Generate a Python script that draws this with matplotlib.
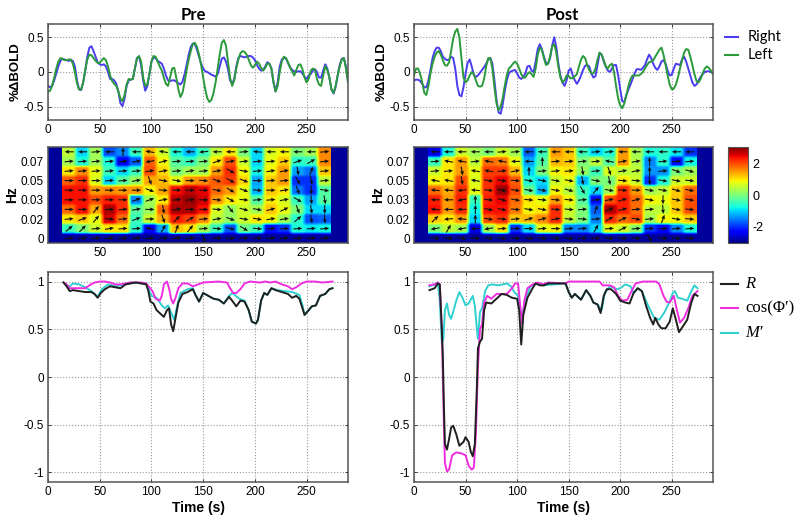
# -*- coding: utf-8 -*-
import numpy as np
import matplotlib
matplotlib.use('Agg')
import matplotlib.pyplot as plt
from matplotlib.lines import Line2D

W, H = 800, 521

# top row, %BOLD, read every 2 s
top_t = list(range(0, 291, 2))
pre_right = [-.2,-.22,-.2,-.12,-.02,.08,.16,.19,.18,.17,
             .16,.17,.16,.08,-.12,-.25,-.26,-.15,.02,.22,
             .35,.37,.3,.22,.14,.11,.1,.11,.08,0,
             -.1,-.1,-.12,-.17,-.28,-.45,-.49,-.38,-.2,-.12,
             -.11,-.1,.05,.2,.22,.1,-.12,-.27,-.2,-.03,
             .15,.21,.2,.16,.14,.12,.05,-.05,-.12,-.13,
             -.12,-.12,-.14,-.16,-.18,-.14,-.03,.1,.25,.36,
             .41,.4,.32,.22,.12,.05,.01,0,-.02,-.04,
             -.05,-.07,-.03,.08,.19,.21,.15,.04,-.12,-.17,
             -.1,.08,.2,.23,.22,.21,.22,.23,.23,.21,
             .17,.1,.05,.02,.03,.08,.14,.12,.05,-.15,
             -.28,-.15,.08,.18,.2,.2,.13,.07,.03,.01,
             0,.01,.01,-.02,-.07,-.1,-.05,-.03,.02,.04,
             0,-.08,-.08,.02,.11,.05,-.08,-.25,-.31,-.22,
             -.05,.1,.19,.2,.08,-.12]
pre_left = [-.28,-.27,-.2,-.08,.05,.15,.2,.19,.17,.17,
            .18,.18,.12,0,-.16,-.25,-.25,-.15,.03,.18,
            .25,.24,.2,.16,.13,.13,.17,.2,.17,.08,
            -.05,-.13,-.17,-.2,-.28,-.38,-.42,-.33,-.18,-.1,
            -.11,-.1,.05,.2,.23,.15,-.08,-.2,-.18,-.03,
            .15,.23,.22,.15,.08,.02,-.08,-.17,-.2,-.08,
            .05,.06,-.08,-.25,-.36,-.3,-.15,.03,.18,.3,
            .4,.42,.36,.25,.1,-.08,-.25,-.38,-.43,-.4,
            -.3,-.15,.05,.25,.42,.46,.38,.15,-.08,-.2,
            -.12,.05,.18,.27,.3,.29,.25,.18,.1,.06,
            .1,.15,.12,.06,.02,.06,.12,.12,.05,-.15,
            -.28,-.2,0,.15,.22,.2,.14,.06,.01,-.05,
            .03,.1,.11,.04,-.08,-.15,-.1,.02,.05,.03,
            -.1,-.18,-.2,-.05,.08,.03,-.08,-.25,-.3,-.2,
            -.05,.08,.18,.2,.05,-.15]
post_right = [-.12,-.11,-.11,-.13,-.17,-.22,-.22,-.12,.03,.2,
              .3,.35,.35,.3,.22,.19,.17,.18,.22,.2,
              .05,-.2,-.33,-.35,-.22,-.02,.13,.18,.08,-.04,
              -.07,-.05,-.01,.03,.07,.12,.18,.2,.12,-.12,
              -.4,-.58,-.6,-.47,-.28,-.12,-.02,.01,.02,.03,
              -.02,-.08,-.1,-.07,-.02,.08,.09,.02,0,.15,
              .33,.4,.33,.22,.13,.12,.2,.38,.5,.36,
              .12,-.05,-.15,-.2,-.12,.02,.05,-.05,-.12,-.17,
              -.12,-.05,.03,.09,.1,.08,-.02,-.08,-.06,.1,
              .27,.25,.15,.08,.02,0,.05,.1,.1,-.05,
              -.25,-.42,-.43,-.33,-.25,-.18,-.1,-.02,.04,.04,
              .03,.06,.1,.18,.25,.2,.12,.06,.03,.08,
              .15,.17,.12,.02,-.05,-.04,.05,.12,.11,.1,
              .18,.22,.15,.05,-.05,-.15,-.2,-.18,-.12,-.07,
              -.03,0,.01,.01,0,-.02]
post_left = [-.05,.05,.05,-.03,-.15,-.3,-.33,-.2,-.02,.12,
             .22,.28,.3,.25,.17,.1,.09,.14,.3,.48,
             .58,.62,.5,.2,-.08,-.15,-.12,-.05,0,-.03,
             -.12,-.2,-.21,-.2,-.1,.08,.2,.2,.05,-.22,
             -.45,-.55,-.5,-.38,-.2,-.05,.05,.08,.12,.15,
             .12,.05,-.03,-.08,-.08,-.03,0,-.03,-.07,.05,
             .25,.35,.32,.2,.1,.12,.22,.37,.4,.28,
             .08,-.08,-.15,-.12,-.05,-.06,-.09,-.09,-.06,-.03,
             .08,.18,.23,.2,.1,.03,-.02,-.02,.05,.18,
             .28,.25,.17,.08,.05,.1,.12,0,-.2,-.38,
             -.48,-.52,-.45,-.33,-.2,-.1,-.05,-.05,-.05,-.05,
             -.03,0,.05,.1,.14,.15,.17,.22,.27,.32,
             .35,.25,.1,-.05,-.18,-.25,-.24,-.18,-.08,.05,
             .17,.28,.33,.32,.22,.1,-.03,-.13,-.15,-.1,
             -.02,.05,.08,.06,.02,-.03]

# bottom row
pre_r_t = [15,18,21,24,30,36,42,45,48,51,55,60,65,70,75,80,85,90,95,97,99,102,105,109,112,115,117,119,121,123,126,130,135,140,143,146,150,155,160,165,170,175,178,182,186,190,194,197,201,203,206,209,212,216,220,226,232,236,240,243,246,248,252,255,259,263,268,272,275]
pre_r = [.99,.95,.9,.91,.9,.89,.89,.87,.83,.88,.92,.95,.94,.93,.97,.98,.99,.98,.97,.9,.79,.77,.7,.66,.63,.7,.72,.55,.48,.6,.78,.87,.89,.92,.85,.79,.88,.85,.82,.81,.77,.84,.8,.74,.8,.79,.7,.58,.56,.6,.8,.88,.86,.93,.91,.89,.87,.83,.85,.82,.72,.65,.7,.74,.75,.85,.87,.92,.93]
pre_cos_t = [15,18,21,26,32,36,40,45,50,55,60,65,70,75,80,90,95,98,101,104,108,110,112,115,117,119,121,123,126,130,135,140,145,150,165,173,176,179,182,186,190,195,205,210,215,220,226,232,236,240,245,250,258,265,275]
pre_cos = [.99,.97,.93,.93,.93,.93,.96,.99,1,1,.99,.97,.97,.98,.99,.99,.98,.94,.9,.82,.8,.85,.97,1,.93,.82,.77,.82,.93,.98,.98,.95,.97,.99,1,.99,.93,.88,.88,.92,.98,1,.99,1,.99,1,.97,.95,.92,.94,.98,1,1,.99,1]
pre_m_t = [15,18,21,24,30,36,42,45,48,52,58,65,70,80,95,98,100,105,110,113,116,120,122,125,128,135,140,143,146,150,155,160,165,170,175,178,185,190,194,197,201,203,206,209,212,216,222,236,243,246,248,252,255,259,263,268,272,275]
pre_m = [.99,.96,.95,.98,.97,.94,.9,.87,.84,.92,.97,.95,.96,.99,.98,.9,.85,.83,.75,.72,.75,.65,.6,.75,.88,.92,.93,.85,.79,.88,.85,.82,.81,.77,.85,.88,.82,.8,.7,.58,.56,.6,.8,.88,.86,.93,.91,.89,.86,.75,.65,.7,.74,.75,.85,.87,.92,.93]
post_r_t = [15,20,23,25,27,28,29,30,32,34,36,38,41,44,48,50,53,55,57,59,61,62,64,66,68,70,75,80,85,90,95,100,102,104,106,110,115,118,122,126,130,140,147,150,153,156,160,162,167,171,174,178,181,184,187,191,196,200,205,209,213,217,221,225,229,232,234,237,240,244,248,251,254,257,262,265,269,272,275]
post_r = [.91,.93,.98,.97,.5,.2,-.3,-.7,-.76,-.65,-.53,-.51,-.6,-.72,-.68,-.63,-.68,-.78,-.83,-.7,-.1,.3,.37,.4,.7,.78,.77,.82,.87,.86,.83,.82,.7,.34,.65,.83,.93,.98,.96,.96,.98,.98,.98,.89,.83,.87,.83,.81,.91,.85,.78,.76,.67,.85,.92,.92,.87,.8,.78,.77,.88,.93,.9,.75,.62,.55,.62,.55,.51,.51,.58,.72,.6,.47,.55,.6,.78,.87,.85]
post_cos_t = [15,20,23,25,27,28,29,30,32,34,37,41,46,50,53,56,58,60,62,64,66,68,71,75,80,85,90,95,98,101,103,105,107,110,115,120,125,130,147,150,165,180,183,190,194,198,202,207,210,215,222,235,238,242,245,248,252,255,258,262,266,270,275]
post_cos = [.96,.97,.99,.97,.5,0,-.5,-.9,-.99,-.97,-.82,-.79,-.8,-.82,-.93,-.97,-.95,-.6,.1,.5,.55,.78,.85,.82,.87,.87,.87,.93,.98,.98,.75,.55,.8,.93,.97,.99,.97,.99,.98,1,1,1,.96,.96,.94,.85,.8,.81,.88,.98,1,1,.97,.85,.79,.78,.85,.7,.57,.62,.72,.85,.9]
post_m_t = [15,20,23,25,27,28.5,30,32,34,36,39,41,44,47,50,53,57,59,61,62,64,66,69,72,76,82,90,94,98,101,103,105,108,113,118,125,147,150,153,156,160,162,167,171,174,178,182,185,190,197,200,205,210,213,217,221,227,233,238,243,248,251,253,256,260,265,269,272,275]
post_m = [.95,.97,.99,.8,.35,.4,.7,.77,.65,.61,.72,.8,.89,.83,.75,.77,.85,.75,.5,.4,.68,.72,.9,.96,.97,.96,.98,.95,.88,.85,.7,.65,.82,.95,.98,.96,.98,.89,.83,.87,.83,.81,.91,.85,.78,.76,.7,.88,.95,.92,.93,.97,.95,.88,.93,.9,.75,.62,.6,.68,.79,.88,.9,.83,.82,.8,.9,.96,.93]

# spectrogram, rows listed top to bottom, 20 coloured columns
pre_cells = [
    [.5,-1,.3,-1.8,-1.5,-.5,1.3,.6,-.7,-1.2,-.5,.5,1,0,-1,.7,.9,0,.3,1.6],
    [.3,-.7,.3,-.7,-2.3,-1.7,1.9,.9,-.3,-.5,0,1,2,.6,-1,.8,1.2,-.6,-.5,1.6],
    [1,1.6,.8,-.5,-1,-.5,2,1.1,0,.3,.3,1.5,2.2,.9,-.8,.9,1.5,-1.3,-1.6,1.2],
    [1.9,2.2,.7,-1,-.3,.2,1.4,1.3,.8,1.5,1.6,1.9,2.1,1.1,-1.3,1.2,1.5,-2,-2,.5],
    [2.4,2.4,1.5,1.6,1.5,1.5,.9,1.4,2.4,2.7,2.5,1.8,1.5,.8,-1.2,1.2,1,-1.6,-2,-.3],
    [2.4,2.4,2,2.3,2.2,-1.5,.3,1,2.7,2.9,2.6,1.5,1,.8,-.3,1,.7,-.5,-1.3,-.3],
    [1.8,2.4,1.4,2.8,2.2,-.3,.2,1.8,2.8,2.8,2.4,.7,.2,.6,.3,1.2,.8,0,-1,-1],
    [1,1.2,.8,2.6,1.8,-.5,.6,1.4,2.3,2.1,1.6,.5,.2,.6,1,.9,.3,-.6,-1.8,-1.7],
    [-.5,0,.6,1,1,-.6,-2.3,-1.3,1.2,1,.3,-.5,-1.8,-.1,-.5,-2.2,-2,-.7,-.9,-.8],
    [-2.9]*20,
]
post_cells = [
    [-2.5,-.7,.6,.3,0,.6,.3,-1.7,-.5,1.5,1.2,-.5,-1,-.7,1.5,.3,-.7,-.6,-.9,-2],
    [-.5,1,1.5,.5,1.8,1.7,.8,-1.3,-.3,1.3,1.2,0,.5,-.3,1.5,.4,-1.5,-.6,-2.2,-.8],
    [.6,1,1.5,.8,2.1,2.1,1.3,-1,0,.9,1,.2,-.5,.7,.5,.5,-1.4,-1.4,0,.3],
    [.9,1,2,.7,2.2,2.5,1.9,-.7,-1,.6,.8,-1.2,0,0,1,.6,-2,-.7,.6,.6],
    [1.8,1.4,2.2,.8,2.2,2.9,2,-.2,-1.2,.9,.5,-.5,-1,.3,2.2,1.5,.3,.5,1.2,1.8],
    [2.3,1.5,2.3,-.5,2.3,2.5,1.8,1,.8,1.5,.9,-.3,-2.2,2,2.3,1.8,.9,.8,1.2,2],
    [2.4,1.5,2.2,-.8,2.4,2.4,1.7,.9,1,2.2,.6,0,-1.7,2.8,2.3,1.8,.5,.5,1.2,2],
    [1.2,1,1.5,-1,2,2.2,1.2,1.3,1.6,2.2,.5,0,-1.5,2.2,1.8,2,.3,.9,.9,1.2],
    [0,.5,.3,-2.5,.3,1,-2,-1,.8,.9,-1.5,-1.5,-1,.8,.6,.1,-2,-2.3,-1.5,-.7],
    [-2.9]*20,
]
# arrow directions in degrees
pre_angles = [
    [180,180,5,180,90,180,170,170,180,180,185,180,180,5,175,180,180,180,180,5],
    [5,5,5,5,10,10,190,15,5,5,5,20,10,5,5,5,10,20,30,5],
    [5,5,5,5,5,5,10,10,5,10,5,10,-30,-10,5,10,10,-80,70,5],
    [0,0,0,5,5,10,-70,-10,-10,0,-5,-20,-30,-20,0,5,5,-60,-80,5],
    [0,0,0,0,0,0,-20,-5,0,0,0,-10,-30,-20,-5,0,10,-70,-90,-10],
    [0,0,0,0,0,20,20,10,5,5,0,-5,-30,-5,5,5,10,-30,-85,-80],
    [0,0,50,0,5,10,0,-80,10,0,0,-5,-50,-15,-10,15,25,-70,-80,-90],
    [5,20,50,-5,5,20,0,-70,45,30,5,10,-20,-10,-10,10,10,40,-80,-85],
    [40,45,5,10,5,5,170,60,70,50,5,-5,-15,-30,-5,5,5,5,5,5],
    [5,10,5,5,5,10,5,5,10,5,-70,5,5,5,5,5,5,5,5,5],
]
post_angles = [
    [180,180,180,180,180,5,5,180,180,180,180,180,5,5,180,180,180,180,180,180],
    [5,170,170,5,170,170,180,180,90,5,5,5,5,170,10,10,90,5,5,5],
    [5,5,-80,170,170,5,10,90,5,5,5,-80,5,-70,10,10,90,5,-20,-15],
    [170,170,-80,170,-10,-10,-5,-10,-10,-10,-10,-80,-10,-80,-5,-5,-85,-10,-10,-5],
    [175,175,185,175,-5,-10,-10,-10,-10,-10,-15,-60,50,-10,-5,0,-10,-10,-15,-10],
    [180,180,190,90,-5,-15,-10,-5,-5,-5,-5,5,5,10,15,15,-10,-90,-10,-10],
    [175,180,180,90,-10,-10,-5,-10,-10,-5,-5,5,70,20,15,5,5,-85,-10,-5],
    [45,185,175,90,-10,-5,5,15,15,10,-5,-5,5,30,25,-10,5,70,-10,-5],
    [190,60,190,185,190,5,5,0,5,0,5,5,60,5,25,5,5,5,5,5],
    [-5,-5,-5,-5,-5,-5,-5,-5,-5,-5,-5,5,5,-5,-5,-5,-60,-5,-5,-5],
]
cell_edges = [14 + 13 * i for i in range(21)]
hz_labels = ['0', '0.02', '0.03', '0.05', '0.07']

plt.rcParams['font.family'] = ['Liberation Sans', 'DejaVu Sans']
EDGE = '#555555'
GRID = '#999999'
BLUE, GREEN = '#4a3df0', '#2a9a3a'
BLACK, MAGENTA, CYAN = '#202020', '#f02ee0', '#30d0d0'
VMIN, VMAX = -3.05, 3.05

fig = plt.figure(figsize=(8, 5.21), dpi=100)


def px_axes(x0, y0, x1, y1):
    return fig.add_axes([x0 / W, 1 - y1 / H, (x1 - x0) / W, (y1 - y0) / H])


def dress(ax, yticks, ylabels):
    ax.set_xlim(0, 290)
    ax.set_xticks([0, 50, 100, 150, 200, 250])
    ax.set_yticks(yticks)
    ax.set_yticklabels(ylabels)
    ax.tick_params(direction='in', length=2.5, width=0.7, color='#333333',
                   labelsize=8.5, pad=3, top=True, right=True)
    for s in ax.spines.values():
        s.set_color(EDGE)
        s.set_linewidth(1.1)


def heat(ax, cells, angles):
    # blocks on a blue ground; repeating keeps them blocky, bilinear softens only the seams
    ax.set_facecolor(plt.get_cmap('jet')((-2.9 - VMIN) / (VMAX - VMIN)))
    blocks = np.repeat(np.repeat(np.array(cells), 3, axis=0), 3, axis=1)
    img = ax.imshow(blocks, cmap='jet', vmin=VMIN, vmax=VMAX, aspect='auto',
                    interpolation='bilinear',
                    extent=[cell_edges[0], cell_edges[-1], 0, 10], origin='upper')
    ang = np.radians(np.array(angles)[::-1])
    xc = (np.array(cell_edges[:-1]) + np.array(cell_edges[1:])) / 2
    yc = np.arange(10) + 0.5
    xx, yy = np.meshgrid(xc, yc)
    ax.quiver(xx, yy, np.cos(ang), np.sin(ang), pivot='mid', angles='uv',
              units='inches', scale_units='inches', scale=11, width=0.011,
              headwidth=3.6, headlength=4, headaxislength=3.6, color='#111111')
    ax.set_ylim(0, 10)
    dress(ax, [0.5, 2.5, 4.5, 6.5, 8.5], hz_labels)
    ax.set_xticks([50, 100, 150, 200, 250])
    ax.tick_params(length=0)
    ax.set_ylabel('Hz', fontweight='bold', fontsize=10, labelpad=1)
    return img


cols = [(48, 348), (414, 713)]
top_rows = [(pre_right, pre_left), (post_right, post_left)]
low_rows = [
    (pre_m_t, pre_m, pre_cos_t, pre_cos, pre_r_t, pre_r),
    (post_m_t, post_m, post_cos_t, post_cos, post_r_t, post_r),
]
titles = ['Pre', 'Post']
title_x = [0.483, 0.495]
cells = [pre_cells, post_cells]
angles = [pre_angles, post_angles]

for i, (x0, x1) in enumerate(cols):
    ax = px_axes(x0, 24, x1, 120)
    r, l = top_rows[i]
    ax.plot(top_t, r, color=BLUE, lw=1.4, solid_joinstyle='round')
    ax.plot(top_t, l, color=GREEN, lw=1.4, solid_joinstyle='round')
    ax.set_ylim(-0.69, 0.69)
    dress(ax, [-0.5, 0, 0.5], ['-0.5', '0', '0.5'])
    ax.grid(True, ls=':', lw=0.8, color=GRID)
    ax.set_axisbelow(True)
    ax.set_ylabel('%ΔBOLD', fontweight='bold', fontsize=9.5, labelpad=1)
    ax.set_title(titles[i], fontsize=12, fontweight='bold', x=title_x[i],
                 family=['Lato', 'DejaVu Sans'], pad=3)

    ax = px_axes(x0, 147, x1, 243)
    img = heat(ax, cells[i], angles[i])

    ax = px_axes(x0, 272, x1, 482)
    tm, m, tc, c, tR, R = low_rows[i]
    ax.plot(tm, m, color=CYAN, lw=1.4, solid_joinstyle='round')
    ax.plot(tc, c, color=MAGENTA, lw=1.4, solid_joinstyle='round')
    ax.plot(tR, R, color=BLACK, lw=1.4, solid_joinstyle='round')
    ax.set_ylim(-1.1, 1.1)
    dress(ax, [-1, -0.5, 0, 0.5, 1], ['-1', '-0.5', '0', '0.5', '1'])
    ax.grid(True, ls=':', lw=0.8, color=GRID)
    ax.set_axisbelow(True)
    ax.set_xlabel('Time (s)', fontweight='bold', fontsize=10, labelpad=2)

cax = px_axes(728, 147, 748, 243)
cb = fig.colorbar(img, cax=cax)
cb.set_ticks([-2, 0, 2])
cb.set_ticklabels(['-2', '0', '2'])
cb.ax.tick_params(length=0, labelsize=9, pad=3)
cb.outline.set_edgecolor(EDGE)


def key(y, x0, x1, color, label, tx, **kw):
    fig.add_artist(Line2D([x0 / W, x1 / W], [1 - y / H, 1 - y / H], color=color, lw=1.5))
    fig.text(tx / W, 1 - y / H, label, va='center', ha='left', **kw)


lato = ['Lato', 'DejaVu Sans']
key(37, 725, 738, BLUE, 'Right', 748, family=lato, fontsize=10.5)
key(55, 725, 738, GREEN, 'Left', 748, family=lato, fontsize=10.5)
serif = ['Liberation Serif', 'DejaVu Serif']
key(284, 721, 738, BLACK, 'R', 745, family=serif, fontsize=12, style='italic')
key(308, 721, 738, MAGENTA, 'cos(Φ′)', 745, family=serif, fontsize=12)
key(333, 721, 738, CYAN, 'M′', 745, family=serif, fontsize=12, style='italic')

fig.savefig('out.png', dpi=100)
